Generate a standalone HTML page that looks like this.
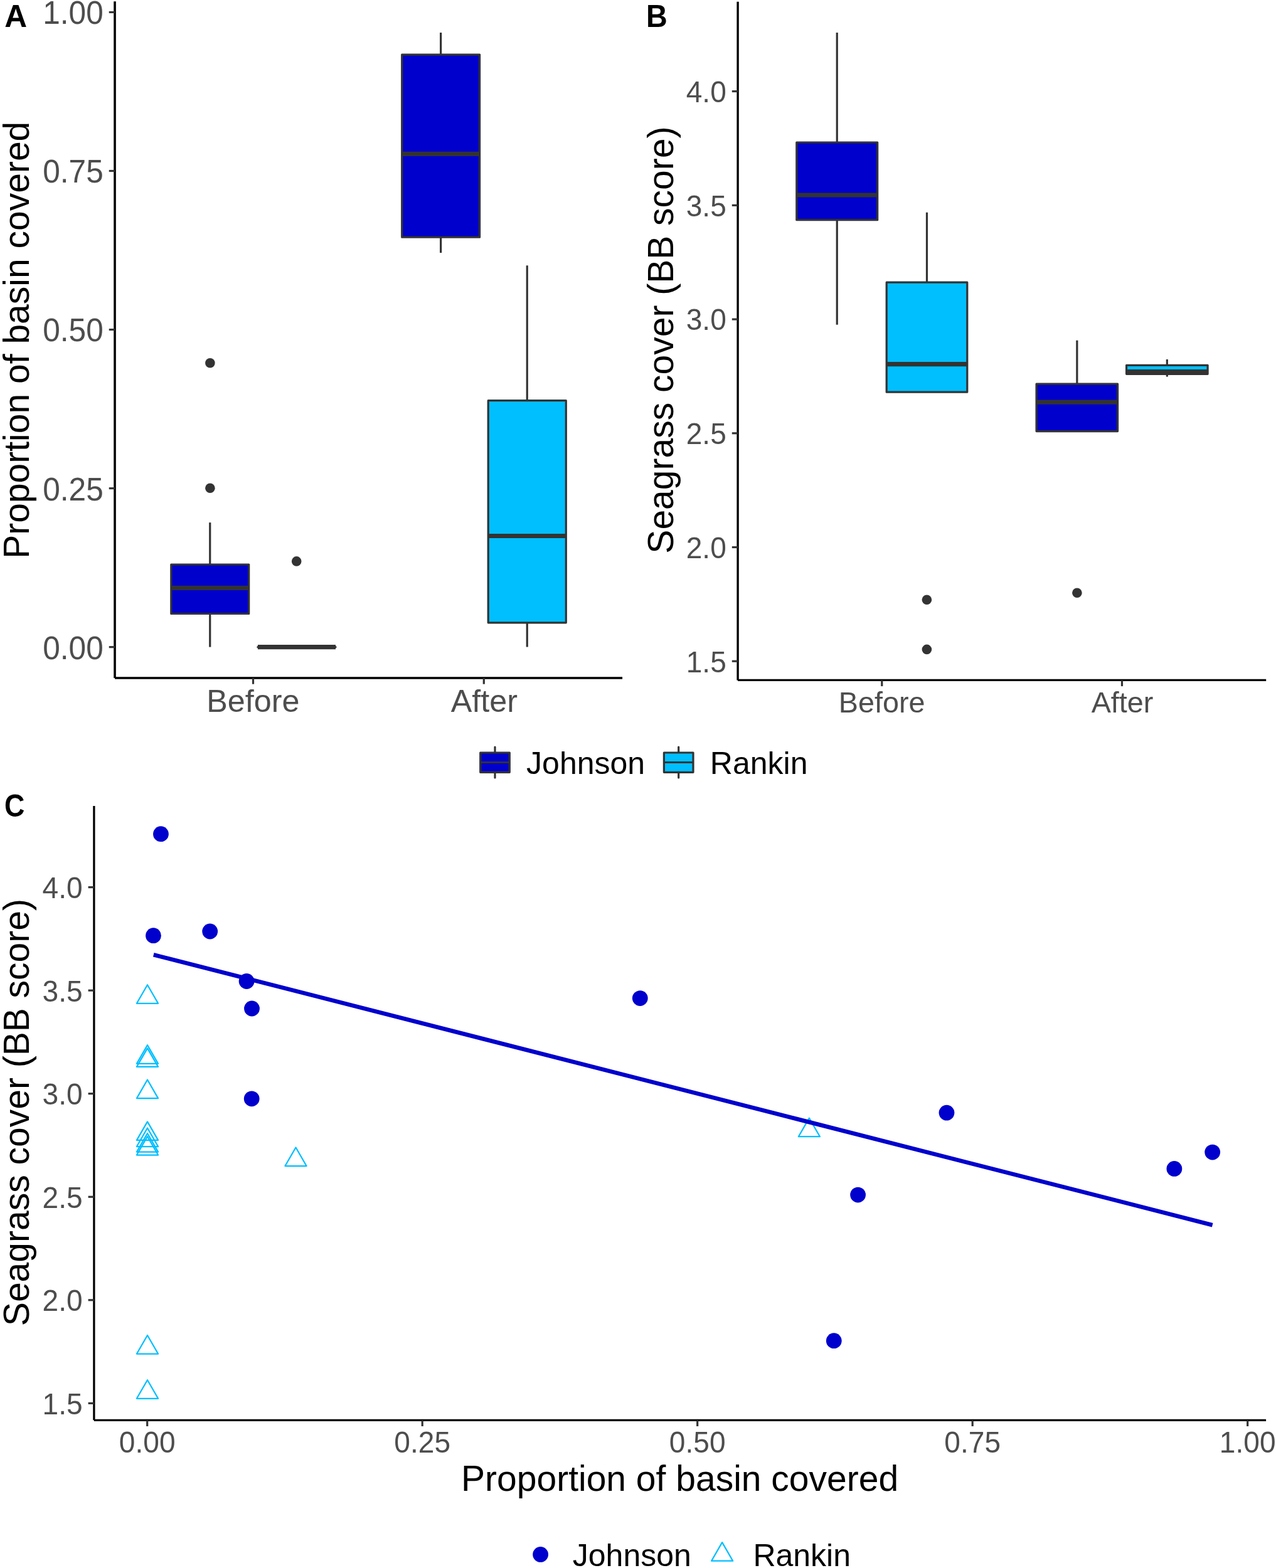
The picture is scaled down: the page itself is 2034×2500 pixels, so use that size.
<!DOCTYPE html>
<html lang="en">
<head>
<meta charset="utf-8">
<title>Seagrass cover and basin coverage</title>
<style>
html,body{margin:0;padding:0;background:#fff;}
body{width:2034px;height:2500px;overflow:hidden;}
svg{display:block;font-family:"Liberation Sans",Arial,Helvetica,sans-serif;}
</style>
</head>
<body>
<svg role="img" aria-label="Seagrass cover and proportion of basin covered, Johnson vs Rankin" width="2034" height="2500" viewBox="0 0 2034 2500">
<rect x="0" y="0" width="2034" height="2500" fill="#ffffff"/>
<g id="panelA">
<line x1="334.75" y1="833.1" x2="334.75" y2="900" stroke="#333333" stroke-width="3.2"/>
<line x1="334.75" y1="978.5" x2="334.75" y2="1031.6" stroke="#333333" stroke-width="3.2"/>
<rect x="272.8" y="900" width="123.9" height="78.5" fill="#0000cd" stroke="#333333" stroke-width="3.2" stroke-linejoin="round"/>
<line x1="272.8" y1="937.4" x2="396.7" y2="937.4" stroke="#333333" stroke-width="7.2"/>
<circle cx="334.9" cy="578.7" r="7.8" fill="#333333"/>
<circle cx="334.9" cy="778.3" r="7.8" fill="#333333"/>
<line x1="410.9" y1="1031.65" x2="535" y2="1031.65" stroke="#333333" stroke-width="3.2" stroke-linecap="round"/>
<line x1="410.9" y1="1031.65" x2="535" y2="1031.65" stroke="#333333" stroke-width="7.2"/>
<circle cx="472.7" cy="894.9" r="7.8" fill="#333333"/>
<line x1="702.65" y1="52" x2="702.65" y2="87.1" stroke="#333333" stroke-width="3.2"/>
<line x1="702.65" y1="378.2" x2="702.65" y2="403.1" stroke="#333333" stroke-width="3.2"/>
<rect x="640.7" y="87.1" width="123.9" height="291.1" fill="#0000cd" stroke="#333333" stroke-width="3.2" stroke-linejoin="round"/>
<line x1="640.7" y1="245.4" x2="764.6" y2="245.4" stroke="#333333" stroke-width="7.2"/>
<line x1="840.25" y1="423.3" x2="840.25" y2="638.7" stroke="#333333" stroke-width="3.2"/>
<line x1="840.25" y1="992.8" x2="840.25" y2="1031.5" stroke="#333333" stroke-width="3.2"/>
<rect x="778.2" y="638.7" width="124.1" height="354.1" fill="#00bfff" stroke="#333333" stroke-width="3.2" stroke-linejoin="round"/>
<line x1="778.2" y1="854.5" x2="902.3" y2="854.5" stroke="#333333" stroke-width="7.2"/>
<line x1="183.05" y1="2.3" x2="183.05" y2="1081" stroke="#000" stroke-width="3.6"/>
<line x1="183.05" y1="1081" x2="992.1" y2="1081" stroke="#000" stroke-width="3.6"/>
<line x1="173.75" y1="1031.65" x2="183.05" y2="1031.65" stroke="#333333" stroke-width="3.2"/>
<text transform="translate(164.75 1050.55) scale(1 1.03)" font-size="49.6" fill="#4d4d4d" text-anchor="end">0.00</text>
<line x1="173.75" y1="778.6" x2="183.05" y2="778.6" stroke="#333333" stroke-width="3.2"/>
<text transform="translate(164.75 797.5) scale(1 1.03)" font-size="49.6" fill="#4d4d4d" text-anchor="end">0.25</text>
<line x1="173.75" y1="525.55" x2="183.05" y2="525.55" stroke="#333333" stroke-width="3.2"/>
<text transform="translate(164.75 544.45) scale(1 1.03)" font-size="49.6" fill="#4d4d4d" text-anchor="end">0.50</text>
<line x1="173.75" y1="272.5" x2="183.05" y2="272.5" stroke="#333333" stroke-width="3.2"/>
<text transform="translate(164.75 291.4) scale(1 1.03)" font-size="49.6" fill="#4d4d4d" text-anchor="end">0.75</text>
<line x1="173.75" y1="19.45" x2="183.05" y2="19.45" stroke="#333333" stroke-width="3.2"/>
<text transform="translate(164.75 38.35) scale(1 1.03)" font-size="49.6" fill="#4d4d4d" text-anchor="end">1.00</text>
<line x1="403.5" y1="1081" x2="403.5" y2="1090.7" stroke="#333333" stroke-width="3.2"/>
<text transform="translate(403.3 1135)" font-size="50.29" fill="#4d4d4d" text-anchor="middle">Before</text>
<line x1="771.3" y1="1081" x2="771.3" y2="1090.7" stroke="#333333" stroke-width="3.2"/>
<text transform="translate(771.9 1135)" font-size="50.29" fill="#4d4d4d" text-anchor="middle">After</text>
<text transform="translate(45.9 542.25) rotate(-90)" font-size="57" fill="#000" text-anchor="middle">Proportion of basin covered</text>
<text transform="translate(7.3 43) scale(1.047 1.04)" font-size="47.5" fill="#000" font-weight="bold">A</text>
</g>
<g id="panelB">
<line x1="1334.25" y1="52" x2="1334.25" y2="227" stroke="#333333" stroke-width="3.2"/>
<line x1="1334.25" y1="350.7" x2="1334.25" y2="517.7" stroke="#333333" stroke-width="3.2"/>
<rect x="1269.8" y="227" width="128.9" height="123.7" fill="#0000cd" stroke="#333333" stroke-width="3.2" stroke-linejoin="round"/>
<line x1="1269.8" y1="311" x2="1398.7" y2="311" stroke="#333333" stroke-width="7.2"/>
<line x1="1477.5" y1="338.7" x2="1477.5" y2="450.2" stroke="#333333" stroke-width="3.2"/>
<rect x="1413.2" y="450.2" width="128.6" height="175" fill="#00bfff" stroke="#333333" stroke-width="3.2" stroke-linejoin="round"/>
<line x1="1413.2" y1="580.6" x2="1541.8" y2="580.6" stroke="#333333" stroke-width="7.2"/>
<circle cx="1477.4" cy="956.2" r="7.8" fill="#333333"/>
<circle cx="1477.4" cy="1035.4" r="7.8" fill="#333333"/>
<line x1="1716.85" y1="542.7" x2="1716.85" y2="612.2" stroke="#333333" stroke-width="3.2"/>
<rect x="1652.1" y="612.2" width="129.5" height="75.4" fill="#0000cd" stroke="#333333" stroke-width="3.2" stroke-linejoin="round"/>
<line x1="1652.1" y1="641.2" x2="1781.6" y2="641.2" stroke="#333333" stroke-width="7.2"/>
<circle cx="1716.9" cy="945.2" r="7.8" fill="#333333"/>
<line x1="1860.35" y1="573" x2="1860.35" y2="582.3" stroke="#333333" stroke-width="3.2"/>
<line x1="1860.35" y1="596.3" x2="1860.35" y2="600.6" stroke="#333333" stroke-width="3.2"/>
<rect x="1795.6" y="582.3" width="129.5" height="14" fill="#00bfff" stroke="#333333" stroke-width="3.2" stroke-linejoin="round"/>
<line x1="1795.6" y1="592.6" x2="1925.1" y2="592.6" stroke="#333333" stroke-width="7.2"/>
<line x1="1176.1" y1="2.8" x2="1176.1" y2="1084.4" stroke="#000" stroke-width="3.4"/>
<line x1="1176.1" y1="1084.4" x2="2018.2" y2="1084.4" stroke="#000" stroke-width="3.4"/>
<line x1="1166.8" y1="1054.2" x2="1176.1" y2="1054.2" stroke="#333333" stroke-width="3.2"/>
<text transform="translate(1157.8 1071.6) scale(1 1.03)" font-size="46.1" fill="#4d4d4d" text-anchor="end">1.5</text>
<line x1="1166.8" y1="872.48" x2="1176.1" y2="872.48" stroke="#333333" stroke-width="3.2"/>
<text transform="translate(1157.8 889.88) scale(1 1.03)" font-size="46.1" fill="#4d4d4d" text-anchor="end">2.0</text>
<line x1="1166.8" y1="690.76" x2="1176.1" y2="690.76" stroke="#333333" stroke-width="3.2"/>
<text transform="translate(1157.8 708.16) scale(1 1.03)" font-size="46.1" fill="#4d4d4d" text-anchor="end">2.5</text>
<line x1="1166.8" y1="509.04" x2="1176.1" y2="509.04" stroke="#333333" stroke-width="3.2"/>
<text transform="translate(1157.8 526.44) scale(1 1.03)" font-size="46.1" fill="#4d4d4d" text-anchor="end">3.0</text>
<line x1="1166.8" y1="327.32" x2="1176.1" y2="327.32" stroke="#333333" stroke-width="3.2"/>
<text transform="translate(1157.8 344.72) scale(1 1.03)" font-size="46.1" fill="#4d4d4d" text-anchor="end">3.5</text>
<line x1="1166.8" y1="145.6" x2="1176.1" y2="145.6" stroke="#333333" stroke-width="3.2"/>
<text transform="translate(1157.8 163) scale(1 1.03)" font-size="46.1" fill="#4d4d4d" text-anchor="end">4.0</text>
<line x1="1405.8" y1="1084.4" x2="1405.8" y2="1094.1" stroke="#333333" stroke-width="3.2"/>
<text transform="translate(1405.6 1135.8)" font-size="46.75" fill="#4d4d4d" text-anchor="middle">Before</text>
<line x1="1788.5" y1="1084.4" x2="1788.5" y2="1094.1" stroke="#333333" stroke-width="3.2"/>
<text transform="translate(1789 1135.8)" font-size="46.75" fill="#4d4d4d" text-anchor="middle">After</text>
<text transform="translate(1073 542.1) rotate(-90)" font-size="57" fill="#000" text-anchor="middle">Seagrass cover (BB score)</text>
<text transform="translate(1029.9 43) scale(0.986 1.04)" font-size="47.5" fill="#000" font-weight="bold">B</text>
</g>
<g id="legend1">
<line x1="789" y1="1191" x2="789" y2="1200" stroke="#333333" stroke-width="3.2" stroke-linecap="round"/>
<line x1="789" y1="1231.3" x2="789" y2="1240" stroke="#333333" stroke-width="3.2" stroke-linecap="round"/>
<rect x="765.7" y="1200" width="46.6" height="31.3" fill="#0000cd" stroke="#333333" stroke-width="3.2" stroke-linejoin="round"/>
<line x1="765.7" y1="1215.5" x2="812.3" y2="1215.5" stroke="#333333" stroke-width="3.2"/>
<text transform="translate(839.1 1234.3)" font-size="50" fill="#000">Johnson</text>
<line x1="1081.7" y1="1191" x2="1081.7" y2="1200" stroke="#333333" stroke-width="3.2" stroke-linecap="round"/>
<line x1="1081.7" y1="1231.3" x2="1081.7" y2="1240" stroke="#333333" stroke-width="3.2" stroke-linecap="round"/>
<rect x="1058.4" y="1200" width="46.6" height="31.3" fill="#00bfff" stroke="#333333" stroke-width="3.2" stroke-linejoin="round"/>
<line x1="1058.4" y1="1215.5" x2="1105" y2="1215.5" stroke="#333333" stroke-width="3.2"/>
<text transform="translate(1131.8 1234.3)" font-size="50" fill="#000">Rankin</text>
</g>
<g id="panelC">
<path d="M235 1570.25L252.06 1599.8L217.94 1599.8Z" fill="none" stroke="#00bfff" stroke-width="2.25" stroke-linejoin="round"/>
<path d="M235 1666.25L252.06 1695.8L217.94 1695.8Z" fill="none" stroke="#00bfff" stroke-width="2.25" stroke-linejoin="round"/>
<path d="M235 1671.35L252.06 1700.9L217.94 1700.9Z" fill="none" stroke="#00bfff" stroke-width="2.25" stroke-linejoin="round"/>
<path d="M235 1721.55L252.06 1751.1L217.94 1751.1Z" fill="none" stroke="#00bfff" stroke-width="2.25" stroke-linejoin="round"/>
<path d="M235 1788.35L252.06 1817.9L217.94 1817.9Z" fill="none" stroke="#00bfff" stroke-width="2.25" stroke-linejoin="round"/>
<path d="M235 1798.45L252.06 1828L217.94 1828Z" fill="none" stroke="#00bfff" stroke-width="2.25" stroke-linejoin="round"/>
<path d="M235 1807.05L252.06 1836.6L217.94 1836.6Z" fill="none" stroke="#00bfff" stroke-width="2.25" stroke-linejoin="round"/>
<path d="M235 1811.95L252.06 1841.5L217.94 1841.5Z" fill="none" stroke="#00bfff" stroke-width="2.25" stroke-linejoin="round"/>
<path d="M235 2128.95L252.06 2158.5L217.94 2158.5Z" fill="none" stroke="#00bfff" stroke-width="2.25" stroke-linejoin="round"/>
<path d="M235 2200.25L252.06 2229.8L217.94 2229.8Z" fill="none" stroke="#00bfff" stroke-width="2.25" stroke-linejoin="round"/>
<path d="M471.5 1829.45L488.56 1859L454.44 1859Z" fill="none" stroke="#00bfff" stroke-width="2.25" stroke-linejoin="round"/>
<path d="M1289.9 1782.65L1306.96 1812.2L1272.84 1812.2Z" fill="none" stroke="#00bfff" stroke-width="2.25" stroke-linejoin="round"/>
<circle cx="256.45" cy="1329.65" r="12.4" fill="#0000cd"/>
<circle cx="244.5" cy="1491.7" r="12.4" fill="#0000cd"/>
<circle cx="334.7" cy="1485" r="12.4" fill="#0000cd"/>
<circle cx="393.1" cy="1564.5" r="12.4" fill="#0000cd"/>
<circle cx="401.5" cy="1608" r="12.4" fill="#0000cd"/>
<circle cx="401.2" cy="1751.8" r="12.4" fill="#0000cd"/>
<circle cx="1020.3" cy="1591.6" r="12.4" fill="#0000cd"/>
<circle cx="1367.6" cy="1905.1" r="12.4" fill="#0000cd"/>
<circle cx="1329.3" cy="2137.7" r="12.4" fill="#0000cd"/>
<circle cx="1509" cy="1774.2" r="12.4" fill="#0000cd"/>
<circle cx="1932.7" cy="1837.1" r="12.4" fill="#0000cd"/>
<circle cx="1871.9" cy="1863.4" r="12.4" fill="#0000cd"/>
<line x1="244.8" y1="1522.2" x2="1932.7" y2="1953.2" stroke="#0000cd" stroke-width="6.6"/>
<line x1="149.9" y1="1285.1" x2="149.9" y2="2264.3" stroke="#000" stroke-width="3.3"/>
<line x1="149.9" y1="2264.3" x2="2018.1" y2="2264.3" stroke="#000" stroke-width="3.3"/>
<line x1="140.6" y1="2237.35" x2="149.9" y2="2237.35" stroke="#333333" stroke-width="3.2"/>
<text transform="translate(131.6 2254.75) scale(1 1.03)" font-size="46.1" fill="#4d4d4d" text-anchor="end">1.5</text>
<line x1="140.6" y1="2072.8" x2="149.9" y2="2072.8" stroke="#333333" stroke-width="3.2"/>
<text transform="translate(131.6 2090.2) scale(1 1.03)" font-size="46.1" fill="#4d4d4d" text-anchor="end">2.0</text>
<line x1="140.6" y1="1908.25" x2="149.9" y2="1908.25" stroke="#333333" stroke-width="3.2"/>
<text transform="translate(131.6 1925.65) scale(1 1.03)" font-size="46.1" fill="#4d4d4d" text-anchor="end">2.5</text>
<line x1="140.6" y1="1743.7" x2="149.9" y2="1743.7" stroke="#333333" stroke-width="3.2"/>
<text transform="translate(131.6 1761.1) scale(1 1.03)" font-size="46.1" fill="#4d4d4d" text-anchor="end">3.0</text>
<line x1="140.6" y1="1579.15" x2="149.9" y2="1579.15" stroke="#333333" stroke-width="3.2"/>
<text transform="translate(131.6 1596.55) scale(1 1.03)" font-size="46.1" fill="#4d4d4d" text-anchor="end">3.5</text>
<line x1="140.6" y1="1414.6" x2="149.9" y2="1414.6" stroke="#333333" stroke-width="3.2"/>
<text transform="translate(131.6 1432) scale(1 1.03)" font-size="46.1" fill="#4d4d4d" text-anchor="end">4.0</text>
<line x1="234.7" y1="2264.3" x2="234.7" y2="2274" stroke="#333333" stroke-width="3.2"/>
<text transform="translate(234.7 2316.4) scale(1 1.03)" font-size="46.1" fill="#4d4d4d" text-anchor="middle">0.00</text>
<line x1="673.2" y1="2264.3" x2="673.2" y2="2274" stroke="#333333" stroke-width="3.2"/>
<text transform="translate(673.2 2316.4) scale(1 1.03)" font-size="46.1" fill="#4d4d4d" text-anchor="middle">0.25</text>
<line x1="1111.7" y1="2264.3" x2="1111.7" y2="2274" stroke="#333333" stroke-width="3.2"/>
<text transform="translate(1111.7 2316.4) scale(1 1.03)" font-size="46.1" fill="#4d4d4d" text-anchor="middle">0.50</text>
<line x1="1550.2" y1="2264.3" x2="1550.2" y2="2274" stroke="#333333" stroke-width="3.2"/>
<text transform="translate(1550.2 2316.4) scale(1 1.03)" font-size="46.1" fill="#4d4d4d" text-anchor="middle">0.75</text>
<line x1="1988.7" y1="2264.3" x2="1988.7" y2="2274" stroke="#333333" stroke-width="3.2"/>
<text transform="translate(1988.7 2316.4) scale(1 1.03)" font-size="46.1" fill="#4d4d4d" text-anchor="middle">1.00</text>
<text transform="translate(1083.6 2377.4)" font-size="57" fill="#000" text-anchor="middle">Proportion of basin covered</text>
<text transform="translate(45.9 1773.6) rotate(-90)" font-size="57" fill="#000" text-anchor="middle">Seagrass cover (BB score)</text>
<text transform="translate(6.9 1301.6) scale(0.945 1.04)" font-size="47.5" fill="#000" font-weight="bold">C</text>
</g>
<g id="legend2">
<circle cx="861.6" cy="2478.4" r="12.4" fill="#0000cd"/>
<text transform="translate(912.8 2496.9)" font-size="50" fill="#000">Johnson</text>
<path d="M1151.15 2459.15L1168.21 2488.7L1134.09 2488.7Z" fill="none" stroke="#00bfff" stroke-width="2.25" stroke-linejoin="round"/>
<text transform="translate(1200.4 2496.9)" font-size="50" fill="#000">Rankin</text>
</g>
</svg>
</body>
</html>
